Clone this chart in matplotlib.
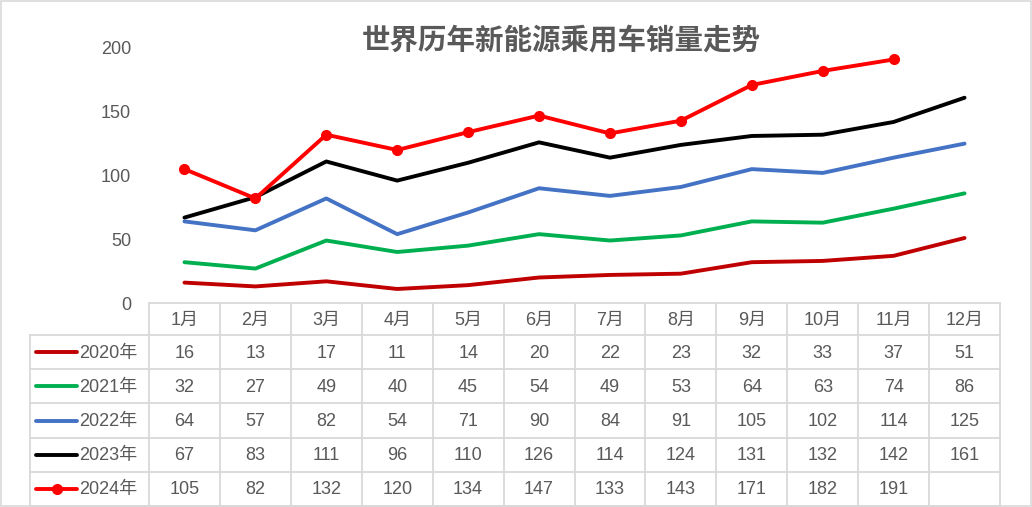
import matplotlib
matplotlib.use("Agg")
import matplotlib.pyplot as plt
from matplotlib.patches import Rectangle
from matplotlib.lines import Line2D

plt.rcParams["font.family"] = ["Liberation Sans", "Noto Sans CJK SC", "DejaVu Sans"]

# ── 数据 ──
months = ["1月", "2月", "3月", "4月", "5月", "6月",
          "7月", "8月", "9月", "10月", "11月", "12月"]
years = ["2020年", "2021年", "2022年", "2023年", "2024年"]
sales_2020 = [16, 13, 17, 11, 14, 20, 22, 23, 32, 33, 37, 51]
sales_2021 = [32, 27, 49, 40, 45, 54, 49, 53, 64, 63, 74, 86]
sales_2022 = [64, 57, 82, 54, 71, 90, 84, 91, 105, 102, 114, 125]
sales_2023 = [67, 83, 111, 96, 110, 126, 114, 124, 131, 132, 142, 161]
sales_2024 = [105, 82, 132, 120, 134, 147, 133, 143, 171, 182, 191]
yticks = [0, 50, 100, 150, 200]

series = [sales_2020, sales_2021, sales_2022, sales_2023, sales_2024]
colors = ["#C00000", "#00B050", "#4472C4", "#000000", "#FF0000"]
markers = [None, None, None, None, "o"]

TXT = "#595959"
GRID = "#D9D9D9"
W, H = 1032, 507
FS = 13

# 像素布局
x0, x1 = 149, 1000          # 数据列左右边界
y_top, y_zero = 48, 303     # 200 与 0 的位置
lab_x0 = 30                 # 图例列左边界
header_bottom = 335
row_h = 34.2

fig = plt.figure(figsize=(W / 100, H / 100), dpi=100)

# 底层画布（像素坐标）
bg = fig.add_axes([0, 0, 1, 1])
bg.set_xlim(0, W)
bg.set_ylim(H, 0)
bg.axis("off")
bg.add_patch(Rectangle((1, 1), W - 2.5, H - 2.5, fill=False,
                       edgecolor=GRID, lw=1.2))

# ── 折线图 ──
ax = fig.add_axes([x0 / W, 1 - y_zero / H, (x1 - x0) / W, (y_zero - y_top) / H])
ax.patch.set_alpha(0)
for vals, c, m in zip(series, colors, markers):
    ax.plot(range(len(vals)), vals, color=c, lw=2.8, marker=m,
            markersize=7, solid_capstyle="round", zorder=3)
ax.set_xlim(-0.5, len(months) - 0.5)
ax.set_ylim(0, 200)
ax.set_yticks(yticks)
ax.set_xticks([])
ax.tick_params(axis="y", length=0, pad=13, labelsize=FS, labelcolor=TXT)
for s in ax.spines.values():
    s.set_visible(False)

fig.text(561 / W, 1 - 40 / H, "世界历年新能源乘用车销量走势",
         ha="center", va="center", fontsize=20.5, color=TXT, fontweight="bold")

# ── 数据表 ──
ncol = len(months)
colw = (x1 - x0) / ncol
nrow = len(years)
table_bottom = header_bottom + nrow * row_h
lw = 1.3

# 横线
bg.plot([x0, x1], [y_zero, y_zero], color=GRID, lw=lw)
for i in range(nrow + 1):
    yy = header_bottom + i * row_h
    bg.plot([lab_x0, x1], [yy, yy], color=GRID, lw=lw)
# 竖线
for j in range(ncol + 1):
    xx = x0 + j * colw
    bg.plot([xx, xx], [y_zero, table_bottom], color=GRID, lw=lw)
bg.plot([lab_x0, lab_x0], [header_bottom, table_bottom], color=GRID, lw=lw)

# 表头
for j, mname in enumerate(months):
    bg.text(x0 + (j + 0.5) * colw, (y_zero + header_bottom) / 2 + 1, mname,
            ha="center", va="center", fontsize=FS, color=TXT)

# 各行
for i, (yr, vals, c, m) in enumerate(zip(years, series, colors, markers)):
    yc = header_bottom + (i + 0.5) * row_h + 1
    bg.add_line(Line2D([36, 77], [yc - 1, yc - 1], color=c, lw=2.8,
                       solid_capstyle="round"))
    if m:
        bg.plot([56.5], [yc - 1], marker=m, color=c, markersize=7)
    bg.text(79, yc, yr, ha="left", va="center", fontsize=FS, color=TXT)
    for j, v in enumerate(vals):
        bg.text(x0 + (j + 0.5) * colw, yc, str(v),
                ha="center", va="center", fontsize=FS, color=TXT)

fig.savefig("out.png", dpi=100)
